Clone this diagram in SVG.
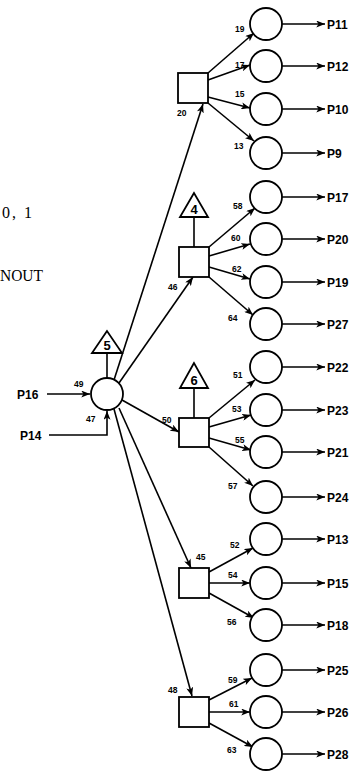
<svg xmlns="http://www.w3.org/2000/svg" width="359" height="771" viewBox="0 0 359 771">
<style>
.n{fill:#fff;stroke:#000;stroke-width:1.8}
.c{fill:none;stroke:#000;stroke-width:1.6}
.ca{fill:none;stroke:#000;stroke-width:1.6;marker-end:url(#a)}
.p{font-family:"Liberation Sans",Arial,sans-serif;font-weight:bold;font-size:12px;fill:#000}
.l{font-family:"Liberation Sans",Arial,sans-serif;font-weight:bold;font-size:8.5px;fill:#000}
.t{font-family:"Liberation Sans",Arial,sans-serif;font-weight:bold;font-size:13px;fill:#000;text-anchor:middle}
.s{font-family:"Liberation Serif","Times New Roman",serif;font-size:16px;fill:#000}
</style>
<defs>
<marker id="a" viewBox="0 0 10 8" refX="10" refY="4" markerWidth="9" markerHeight="7" orient="auto" markerUnits="userSpaceOnUse"><path d="M0,0 L10,4 L0,8 L2.5,4 z" fill="#000"/></marker>
</defs>
<rect width="359" height="771" fill="#fff"/>
<g id="side-text">
<text class="s" x="2" y="218" textLength="30" lengthAdjust="spacing">0, 1</text>
<text class="s" x="0" y="281" textLength="43" lengthAdjust="spacingAndGlyphs">NOUT</text>
</g>
<g id="connectors">
<path class="ca" d="M47,394 H90"/>
<path class="ca" d="M49,435 H107 V411"/>
<path class="c" d="M107,353 V378"/>
<path class="c" d="M194,217 V247"/>
<path class="c" d="M194,388 V418"/>
<path class="ca" d="M114,380 L203,104"/>
<path class="ca" d="M119,383 L193,277"/>
<path class="ca" d="M122,400 L179,432"/>
<path class="ca" d="M119,408 L191,568"/>
<path class="ca" d="M114,409 L192,696"/>
<path class="ca" d="M208,73 L254,33"/>
<path class="ca" d="M208,80 L250,65"/>
<path class="ca" d="M208,97 L250,108"/>
<path class="ca" d="M208,103 L254,141"/>
<path class="ca" d="M209,247 L255,208"/>
<path class="ca" d="M209,256 L250,244"/>
<path class="ca" d="M209,267 L250,279"/>
<path class="ca" d="M209,277 L253,315"/>
<path class="ca" d="M209,418 L255,380"/>
<path class="ca" d="M209,427 L251,415"/>
<path class="ca" d="M209,438 L251,450"/>
<path class="ca" d="M209,447 L253,486"/>
<path class="ca" d="M209,572 L253,548"/>
<path class="ca" d="M209,583 L250,583"/>
<path class="ca" d="M209,593 L254,618"/>
<path class="ca" d="M209,700 L252,678"/>
<path class="ca" d="M209,712 L250,712"/>
<path class="ca" d="M209,723 L253,747"/>
<path class="ca" d="M282,24 H325"/>
<path class="ca" d="M282,66 H325"/>
<path class="ca" d="M282,109 H325"/>
<path class="ca" d="M282,153 H325"/>
<path class="ca" d="M282,197 H325"/>
<path class="ca" d="M282,239 H325"/>
<path class="ca" d="M282,282 H325"/>
<path class="ca" d="M282,324 H325"/>
<path class="ca" d="M282,367 H325"/>
<path class="ca" d="M282,410 H325"/>
<path class="ca" d="M282,452 H325"/>
<path class="ca" d="M282,497 H325"/>
<path class="ca" d="M282,539 H325"/>
<path class="ca" d="M282,583 H325"/>
<path class="ca" d="M282,625 H325"/>
<path class="ca" d="M282,670 H325"/>
<path class="ca" d="M282,712 H325"/>
<path class="ca" d="M282,754 H325"/>
<text class="p" x="17" y="399">P16</text>
<text class="p" x="20" y="440">P14</text>
<text class="l" x="74" y="387">49</text>
<text class="l" x="86" y="422">47</text>
<text class="l" x="162" y="423">50</text>
<text class="l" x="177" y="116">20</text>
<text class="l" x="168" y="290">46</text>
<text class="l" x="196" y="560">45</text>
<text class="l" x="168" y="693">48</text>
<text class="l" x="235" y="32">19</text>
<text class="l" x="235" y="68">17</text>
<text class="l" x="235" y="97">15</text>
<text class="l" x="234" y="149">13</text>
<text class="l" x="233" y="209">58</text>
<text class="l" x="231" y="241">60</text>
<text class="l" x="232" y="272">62</text>
<text class="l" x="228" y="321">64</text>
<text class="l" x="233" y="378">51</text>
<text class="l" x="232" y="412">53</text>
<text class="l" x="235" y="443">55</text>
<text class="l" x="228" y="489">57</text>
<text class="l" x="230" y="548">52</text>
<text class="l" x="228" y="578">54</text>
<text class="l" x="227" y="625">56</text>
<text class="l" x="228" y="683">59</text>
<text class="l" x="229" y="707">61</text>
<text class="l" x="227" y="753">63</text>
</g>
<g id="hub"><circle class="n" cx="107" cy="394" r="16"/></g>
<g id="tri5"><path class="n" d="M107,331 L92,353 H122 Z"/><text class="t" x="107" y="350">5</text></g>
<g id="tri4"><path class="n" d="M194,193 L180,217 H208 Z"/><text class="t" x="194" y="214">4</text></g>
<g id="tri6"><path class="n" d="M194,363 L180,388 H208 Z"/><text class="t" x="194" y="385">6</text></g>
<g id="sq20"><rect class="n" x="178" y="73" width="30" height="30"/></g>
<g id="sq46"><rect class="n" x="179" y="247" width="30" height="30"/></g>
<g id="sq50"><rect class="n" x="179" y="418" width="30" height="29"/></g>
<g id="sq45"><rect class="n" x="179" y="568" width="30" height="30"/></g>
<g id="sq48"><rect class="n" x="179" y="697" width="30" height="30"/></g>
<g id="P11"><circle class="n" cx="266" cy="24" r="16"/><text class="p" x="327" y="28.5">P11</text></g>
<g id="P12"><circle class="n" cx="266" cy="66" r="16"/><text class="p" x="327" y="70.5">P12</text></g>
<g id="P10"><circle class="n" cx="266" cy="109" r="16"/><text class="p" x="327" y="113.5">P10</text></g>
<g id="P9"><circle class="n" cx="266" cy="153" r="16"/><text class="p" x="327" y="157.5">P9</text></g>
<g id="P17"><circle class="n" cx="266" cy="197" r="16"/><text class="p" x="327" y="201.5">P17</text></g>
<g id="P20"><circle class="n" cx="266" cy="239" r="16"/><text class="p" x="327" y="243.5">P20</text></g>
<g id="P19"><circle class="n" cx="266" cy="282" r="16"/><text class="p" x="327" y="286.5">P19</text></g>
<g id="P27"><circle class="n" cx="266" cy="324" r="16"/><text class="p" x="327" y="328.5">P27</text></g>
<g id="P22"><circle class="n" cx="266" cy="367" r="16"/><text class="p" x="327" y="371.5">P22</text></g>
<g id="P23"><circle class="n" cx="266" cy="410" r="16"/><text class="p" x="327" y="414.5">P23</text></g>
<g id="P21"><circle class="n" cx="266" cy="452" r="16"/><text class="p" x="327" y="456.5">P21</text></g>
<g id="P24"><circle class="n" cx="266" cy="497" r="16"/><text class="p" x="327" y="501.5">P24</text></g>
<g id="P13"><circle class="n" cx="266" cy="539" r="16"/><text class="p" x="327" y="543.5">P13</text></g>
<g id="P15"><circle class="n" cx="266" cy="583" r="16"/><text class="p" x="327" y="587.5">P15</text></g>
<g id="P18"><circle class="n" cx="266" cy="625" r="16"/><text class="p" x="327" y="629.5">P18</text></g>
<g id="P25"><circle class="n" cx="266" cy="670" r="16"/><text class="p" x="327" y="674.5">P25</text></g>
<g id="P26"><circle class="n" cx="266" cy="712" r="16"/><text class="p" x="327" y="716.5">P26</text></g>
<g id="P28"><circle class="n" cx="266" cy="754" r="16"/><text class="p" x="327" y="758.5">P28</text></g>
</svg>
